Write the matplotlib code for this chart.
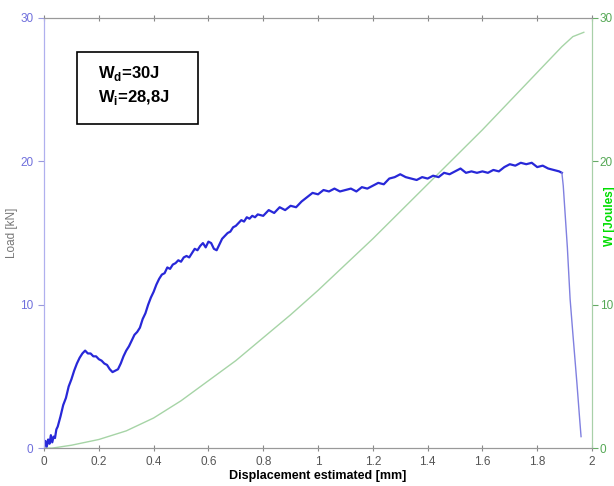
import matplotlib
matplotlib.use('Agg')
import matplotlib.pyplot as plt
from matplotlib.patches import Rectangle
import numpy as np

plt.rcParams['font.family'] = ['Liberation Sans', 'DejaVu Sans']
plt.rcParams['mathtext.fontset'] = 'custom'
plt.rcParams['mathtext.rm'] = 'Liberation Sans'
plt.rcParams['mathtext.bf'] = 'Liberation Sans:bold'

# Load vs displacement
disp = [0.000, 0.005, 0.010, 0.015, 0.020, 0.025, 0.030, 0.035, 0.040, 0.045, 0.050,
        0.06, 0.07, 0.08, 0.09, 0.10, 0.11, 0.12, 0.13, 0.14, 0.15, 0.16, 0.17, 0.18, 0.19,
        0.20, 0.21, 0.22, 0.23, 0.24, 0.25, 0.26, 0.27, 0.28, 0.29, 0.30, 0.31, 0.32, 0.33,
        0.34, 0.35, 0.36, 0.37, 0.38, 0.39, 0.40, 0.41, 0.42, 0.43, 0.44, 0.45, 0.46, 0.47,
        0.48, 0.49, 0.50, 0.51, 0.52, 0.53, 0.54, 0.55, 0.56, 0.57, 0.58, 0.59, 0.60, 0.61,
        0.62, 0.63, 0.64, 0.65, 0.66, 0.67, 0.68, 0.69, 0.70, 0.71, 0.72, 0.73, 0.74, 0.75,
        0.76, 0.77, 0.78, 0.80, 0.82, 0.84, 0.86, 0.88, 0.90, 0.92, 0.94, 0.96, 0.98, 1.00,
        1.02, 1.04, 1.06, 1.08, 1.10, 1.12, 1.14, 1.16, 1.18, 1.20, 1.22, 1.24, 1.26, 1.28,
        1.30, 1.32, 1.34, 1.36, 1.38, 1.40, 1.42, 1.44, 1.46, 1.48, 1.50, 1.52, 1.54, 1.56,
        1.58, 1.60, 1.62, 1.64, 1.66, 1.68, 1.70, 1.72, 1.74, 1.76, 1.78, 1.80, 1.82, 1.84,
        1.86, 1.88, 1.89, 1.895, 1.91, 1.92, 1.93, 1.945, 1.955, 1.96]
load = [0.0, 0.5, 0.1, 0.6, 0.3, 0.9, 0.4, 0.8, 0.7, 1.3, 1.5,
        2.2, 3.0, 3.5, 4.3, 4.8, 5.4, 5.9, 6.3, 6.6, 6.8, 6.6, 6.6, 6.4, 6.4,
        6.2, 6.1, 5.9, 5.8, 5.5, 5.3, 5.4, 5.5, 5.9, 6.4, 6.8, 7.1, 7.5, 7.9,
        8.1, 8.4, 9.0, 9.4, 10.0, 10.5, 10.9, 11.4, 11.8, 12.1, 12.2, 12.6, 12.5, 12.8,
        12.9, 13.1, 13.0, 13.3, 13.4, 13.3, 13.6, 13.9, 13.8, 14.1, 14.3, 14.0, 14.4, 14.3,
        13.9, 13.8, 14.2, 14.6, 14.8, 15.0, 15.1, 15.4, 15.5, 15.7, 15.9, 15.8, 16.1, 16.0,
        16.2, 16.1, 16.3, 16.2, 16.6, 16.4, 16.8, 16.6, 16.9, 16.8, 17.2, 17.5, 17.8, 17.7,
        18.0, 17.9, 18.1, 17.9, 18.0, 18.1, 17.9, 18.2, 18.1, 18.3, 18.5, 18.4, 18.8, 18.9,
        19.1, 18.9, 18.8, 18.7, 18.9, 18.8, 19.0, 18.9, 19.2, 19.1, 19.3, 19.5, 19.2, 19.3,
        19.2, 19.3, 19.2, 19.4, 19.3, 19.6, 19.8, 19.7, 19.9, 19.8, 19.9, 19.6, 19.7, 19.5,
        19.4, 19.3, 19.2, 18.3, 14.0, 10.4, 8.0, 4.5, 2.0, 0.8]

# Absorbed energy W
w_disp = [0.0, 0.03, 0.1, 0.2, 0.3, 0.4, 0.5, 0.6, 0.7, 0.8, 0.9, 1.0, 1.1, 1.2,
          1.3, 1.4, 1.5, 1.6, 1.7, 1.8, 1.85, 1.89, 1.93, 1.97]
w_energy = [0.0, 0.0, 0.2, 0.6, 1.2, 2.1, 3.3, 4.7, 6.1, 7.7, 9.3, 11.0, 12.8, 14.6,
            16.5, 18.4, 20.3, 22.2, 24.2, 26.2, 27.2, 28.0, 28.7, 29.0]

x_ticks = [0, 0.2, 0.4, 0.6, 0.8, 1, 1.2, 1.4, 1.6, 1.8, 2]
x_ticklabels = ['0', '0.2', '0.4', '0.6', '0.8', '1', '1.2', '1.4', '1.6', '1.8', '2']
y_ticks = [0, 10, 20, 30]

fig = plt.figure(figsize=(6.14, 4.86), dpi=100)
ax = fig.add_axes([0.0717, 0.078, 0.8925, 0.885])
ax2 = ax.twinx()

# green energy curve
ax2.plot(w_disp, w_energy, color='#a6d4a6', lw=1.0)
ax2.set_ylim(0, 30)
ax2.set_yticks(y_ticks)
ax2.tick_params(axis='y', colors='#66aa66', labelsize=8.5, direction='out',
                length=4, pad=1.5)
for t in ax2.get_yticklabels():
    t.set_color('#55a855')

# blue load curve
n_drop = disp.index(1.89)
ax.plot(disp[:n_drop + 1], load[:n_drop + 1], color='#2828d8', lw=1.6)
ax.plot(disp[n_drop:], load[n_drop:], color='#8080e0', lw=1.0)
ax.set_zorder(ax2.get_zorder() + 1)
ax.patch.set_visible(False)

ax.set_xlim(0, 2)
ax.set_ylim(0, 30)
ax.set_xticks(x_ticks)
ax.set_xticklabels(x_ticklabels)
ax.set_yticks(y_ticks)
ax.tick_params(axis='x', colors='#888888', labelcolor='#555555', labelsize=8.5,
               direction='inout', length=5, top=True)
ax.tick_params(axis='y', colors='#9999dd', labelcolor='#6f6fdc', labelsize=8.5,
               direction='out', length=4)

for a in (ax, ax2):
    a.spines['top'].set_color('#999999')
    a.spines['bottom'].set_color('#999999')
    a.spines['left'].set_color('#b0b0ee')
    a.spines['right'].set_color('#a8d0a8')

ax.set_xlabel('Displacement estimated [mm]', fontsize=9, fontweight='bold', labelpad=1)
ax.set_ylabel('Load [kN]', fontsize=8.5, color='#777777', labelpad=2)
fig.text(0.993, 0.555, 'W [Joules]', rotation=90, color='#00dd00', fontsize=8.5,
         fontweight='bold', ha='center', va='center')

# energy box
ax.add_patch(Rectangle((0.060, 0.753), 0.221, 0.168, transform=ax.transAxes,
                       facecolor='white', edgecolor='black', lw=1.2, zorder=5))
ax.text(0.098, 0.872, r'W$_\mathbf{d}$=30J', transform=ax.transAxes, fontsize=12,
        fontweight='bold', va='center', ha='left', zorder=6)
ax.text(0.098, 0.815, r'W$_\mathbf{i}$=28,8J', transform=ax.transAxes, fontsize=12,
        fontweight='bold', va='center', ha='left', zorder=6)

fig.savefig('out.png', dpi=100)
